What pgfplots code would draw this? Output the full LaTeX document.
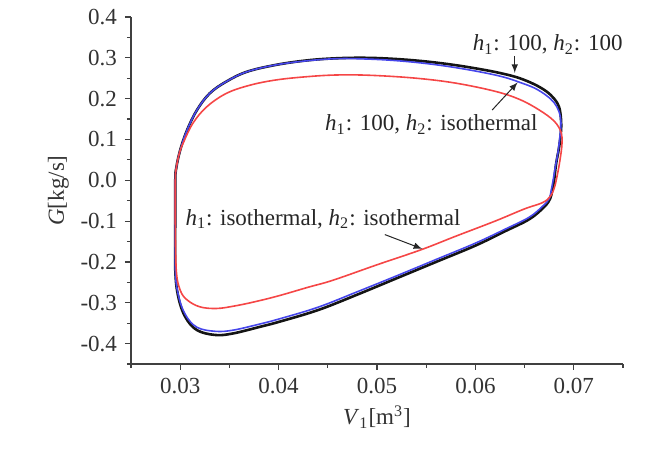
\documentclass[border=0pt]{standalone}
\usepackage{fontspec}
\setmainfont{Liberation Serif}
\usepackage{pgfplots}
\pgfplotsset{compat=1.18}
\definecolor{cblack}{RGB}{20,20,20}
\definecolor{cblue}{RGB}{70,70,235}
\definecolor{cred}{RGB}{245,70,70}
\begin{document}
\fontsize{11.5}{13}\selectfont
\begin{tikzpicture}
\begin{axis}[
  at={(0,0)}, anchor=south west,
  scale only axis, width=246pt, height=173.5pt,
  xmin=0.025, xmax=0.075, ymin=-0.45, ymax=0.4,
  axis x line*=bottom, axis y line*=left,
  axis line style={-, line width=0.6pt, black!75},
  tick align=outside,
  major tick length=3pt, minor tick length=2pt,
  every tick/.style={black!75, line width=0.6pt},
  xtick={0.03,0.04,0.05,0.06,0.07},
  minor xtick={0.025,0.035,0.045,0.055,0.065,0.075},
  ytick={-0.4,-0.3,-0.2,-0.1,0,0.1,0.2,0.3,0.4},
  minor ytick={-0.45,-0.35,-0.25,-0.15,-0.05,0.05,0.15,0.25,0.35},
  xticklabel style={/pgf/number format/.cd, fixed, fixed zerofill, precision=2, assume math mode=true},
  yticklabel style={/pgf/number format/.cd, fixed, fixed zerofill, precision=1, assume math mode=true},
  scaled x ticks=false, scaled y ticks=false,
  tick label style={text=black!80},
  xlabel={\textit{V}\textsubscript{1}[m\textsuperscript{3}]},
  ylabel={\textit{G}[kg/s]},
  label style={text=black!80},
  xlabel style={yshift=2pt},
  ylabel style={yshift=-2pt},
  clip=false,
]
% h1:100, h2:100
\addplot[cblack, line width=1.3pt, smooth, tension=0.6] coordinates {
(0.0295,-0.10) (0.0295,0.00) (0.0296,0.03) (0.0300,0.074) (0.0307,0.123)
(0.0317,0.172) (0.0330,0.213) (0.0347,0.242) (0.0368,0.266) (0.0398,0.283)
(0.0430,0.294) (0.0460,0.299) (0.0490,0.300) (0.0520,0.297) (0.0550,0.291)
(0.0580,0.282) (0.0610,0.270) (0.0630,0.260) (0.0645,0.250) (0.0660,0.235)
(0.0672,0.218) (0.0680,0.200) (0.0685,0.180) (0.0687,0.150)
(0.0687,0.120) (0.0685,0.080) (0.0682,0.040) (0.0680,0.000) (0.0678,-0.025)
(0.0676,-0.045) (0.0670,-0.065) (0.0655,-0.095) (0.0630,-0.125) (0.0600,-0.160)
(0.0560,-0.200) (0.0520,-0.240) (0.0480,-0.280) (0.0440,-0.318) (0.0400,-0.347)
(0.0381,-0.359) (0.0354,-0.375) (0.0336,-0.379) (0.0317,-0.367) (0.0305,-0.334)
(0.0298,-0.285) (0.0295,-0.22) (0.0295,-0.10)
};
% h1:100, h2:isothermal
\addplot[cblue, line width=0.8pt, smooth, tension=0.6] coordinates {
(0.0295,-0.10) (0.0295,0.00) (0.0296,0.03) (0.0300,0.074) (0.0307,0.123)
(0.0317,0.172) (0.0330,0.213) (0.0347,0.242) (0.0368,0.266) (0.0398,0.283)
(0.0430,0.293) (0.0460,0.298) (0.0490,0.297) (0.0520,0.293) (0.0550,0.286)
(0.0580,0.276) (0.0610,0.263) (0.0630,0.252) (0.0645,0.240) (0.0660,0.226)
(0.0672,0.208) (0.0680,0.190) (0.0685,0.168) (0.0687,0.140)
(0.0686,0.110) (0.0684,0.070) (0.0681,0.030) (0.0679,0.000) (0.0677,-0.025)
(0.0675,-0.045) (0.0669,-0.062) (0.0655,-0.090) (0.0630,-0.120) (0.0600,-0.154)
(0.0560,-0.194) (0.0520,-0.234) (0.0480,-0.273) (0.0440,-0.311) (0.0400,-0.340)
(0.0381,-0.352) (0.0354,-0.367) (0.0336,-0.370) (0.0317,-0.360) (0.0305,-0.328)
(0.0298,-0.280) (0.0295,-0.22) (0.0295,-0.10)
};
% h1:isothermal, h2:isothermal
\addplot[cred, line width=0.8pt, smooth, tension=0.6] coordinates {
(0.0295,-0.10) (0.0295,0.00) (0.0296,0.03) (0.0299,0.065) (0.0303,0.091)
(0.0313,0.140) (0.0327,0.180) (0.0347,0.213) (0.0371,0.233) (0.0398,0.246)
(0.0430,0.254) (0.0460,0.258) (0.0495,0.257) (0.0540,0.250) (0.0580,0.238)
(0.0620,0.218) (0.0645,0.198) (0.0665,0.172) (0.0680,0.145) (0.0687,0.118)
(0.0688,0.090) (0.0686,0.050) (0.0683,0.010) (0.0680,-0.020) (0.0676,-0.040)
(0.0668,-0.055) (0.0650,-0.070) (0.0620,-0.100) (0.0580,-0.137) (0.0545,-0.170)
(0.0500,-0.207) (0.0455,-0.245) (0.0430,-0.262) (0.0400,-0.283) (0.0375,-0.298)
(0.0355,-0.308) (0.0337,-0.314) (0.0320,-0.310) (0.0307,-0.293) (0.0300,-0.269)
(0.0296,-0.22) (0.0295,-0.10)
};
% annotations
\node[anchor=west, inner sep=0pt, text=black!85] at (axis cs:0.0597,0.333)
  {\textit{h}\textsubscript{1}: 100, \textit{h}\textsubscript{2}: 100};
\draw[-latex, black!85, line width=0.5pt] (axis cs:0.0640,0.305) -- (axis cs:0.0640,0.263);
\node[anchor=west, inner sep=0pt, text=black!85] at (axis cs:0.0447,0.136)
  {\textit{h}\textsubscript{1}: 100, \textit{h}\textsubscript{2}: isothermal};
\draw[-latex, black!85, line width=0.5pt] (axis cs:0.0617,0.172) -- (axis cs:0.0643,0.240);
\node[anchor=west, inner sep=0pt, text=black!85] at (axis cs:0.0305,-0.095)
  {\textit{h}\textsubscript{1}: isothermal, \textit{h}\textsubscript{2}: isothermal};
\draw[-latex, black!85, line width=0.5pt] (axis cs:0.0508,-0.133) -- (axis cs:0.0546,-0.168);
\end{axis}
\pgfresetboundingbox
\path (-65.5pt,-53pt) rectangle (258.5pt,182pt);
\end{tikzpicture}
\end{document}
